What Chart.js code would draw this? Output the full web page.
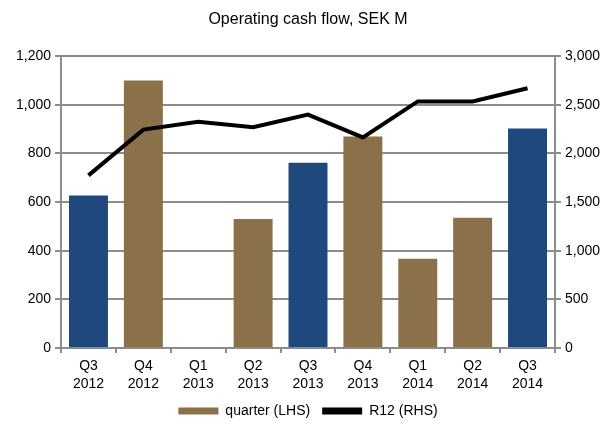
<!DOCTYPE html>
<html>
<head>
<meta charset="utf-8">
<script src="https://cdn.jsdelivr.net/npm/chart.js@4"></script>
<style>
  html, body { margin: 0; padding: 0; background: #fff; }
  #wrap { width: 612px; height: 428px; }
</style>
</head>
<body>
<div id="wrap"><canvas id="chart" width="612" height="428"></canvas></div>
<script>
// Quarter labels (two lines each)
const quarters = [
    ['Q3', '2012'], ['Q4', '2012'], ['Q1', '2013'], ['Q2', '2013'], ['Q3', '2013'],
    ['Q4', '2013'], ['Q1', '2014'], ['Q2', '2014'], ['Q3', '2014']
];

// Quarterly operating cash flow, SEK M (left axis)
const quarterValues = [627, 1100, 0, 530, 762, 870, 367, 536, 903];

// Rolling 12 months, SEK M (right axis)
const r12Values = [1775, 2245, 2325, 2270, 2400, 2165, 2535, 2535, 2670];

const BLUE = '#1f497d';
const BROWN = '#8b7149';
const GRID = '#8c8c8c';
const FONT = 'Liberation Sans, Arial';

// Q3 bars are highlighted in blue
const barColors = quarters.map(q => q[0] === 'Q3' ? BLUE : BROWN);

const ctx = document.getElementById('chart');

new Chart(ctx, {
    data: {
        labels: quarters,
        datasets: [
            {
                type: 'line',
                label: 'R12 (RHS)',
                data: r12Values,
                yAxisID: 'y1',
                borderColor: '#000',
                backgroundColor: '#000',
                borderWidth: 4,
                pointRadius: 0,
                tension: 0,
                order: 0,
            },
            {
                type: 'bar',
                label: 'quarter (LHS)',
                data: quarterValues,
                yAxisID: 'y',
                backgroundColor: barColors,
                categoryPercentage: 1,
                barPercentage: 0.71,
                order: 1,
            }
        ]
    },
    options: {
        responsive: false,
        animation: false,
        layout: {
            padding: { left: 12, right: 8, top: 1, bottom: 0 }
        },
        plugins: {
            title: {
                display: true,
                text: 'Operating cash flow, SEK M',
                color: '#000',
                font: { family: FONT, size: 16, weight: 'normal' },
                padding: { top: 9, bottom: 27 }
            },
            legend: {
                position: 'bottom',
                labels: {
                    color: '#000',
                    font: { family: FONT, size: 14 },
                    boxWidth: 40,
                    boxHeight: 7,
                    padding: 12,
                    generateLabels: function(chart) {
                        return [
                            { text: 'quarter (LHS)', fillStyle: BROWN, strokeStyle: BROWN, lineWidth: 0, datasetIndex: 1 },
                            { text: 'R12 (RHS)', fillStyle: '#000', strokeStyle: '#000', lineWidth: 0, datasetIndex: 0 }
                        ];
                    }
                }
            },
            tooltip: { enabled: false }
        },
        scales: {
            x: {
                offset: true,
                // keep the category axis a fixed height so the plot reaches down as in the original
                afterFit: scale => { scale.height = 44; },
                grid: {
                    offset: true,
                    drawOnChartArea: false,
                    drawTicks: true,
                    tickLength: 5,
                    color: GRID,
                    lineWidth: 2
                },
                border: { color: GRID, width: 2 },
                ticks: {
                    color: '#000',
                    font: { family: FONT, size: 14, lineHeight: 1.3 },
                    maxRotation: 0,
                    padding: 4
                }
            },
            y: {
                position: 'left',
                min: 0,
                max: 1200,
                grid: {
                    color: GRID,
                    lineWidth: 2,
                    tickLength: 6
                },
                border: { color: GRID, width: 2 },
                ticks: {
                    stepSize: 200,
                    color: '#000',
                    font: { family: FONT, size: 14 },
                    padding: 4,
                    callback: v => v.toLocaleString('en-US')
                }
            },
            y1: {
                position: 'right',
                min: 0,
                max: 3000,
                grid: {
                    drawOnChartArea: false,
                    color: GRID,
                    lineWidth: 2,
                    tickLength: 6
                },
                border: { color: GRID, width: 2 },
                ticks: {
                    stepSize: 500,
                    color: '#000',
                    font: { family: FONT, size: 14 },
                    padding: 4,
                    callback: v => v.toLocaleString('en-US')
                }
            }
        }
    }
});
</script>
</body>
</html>
